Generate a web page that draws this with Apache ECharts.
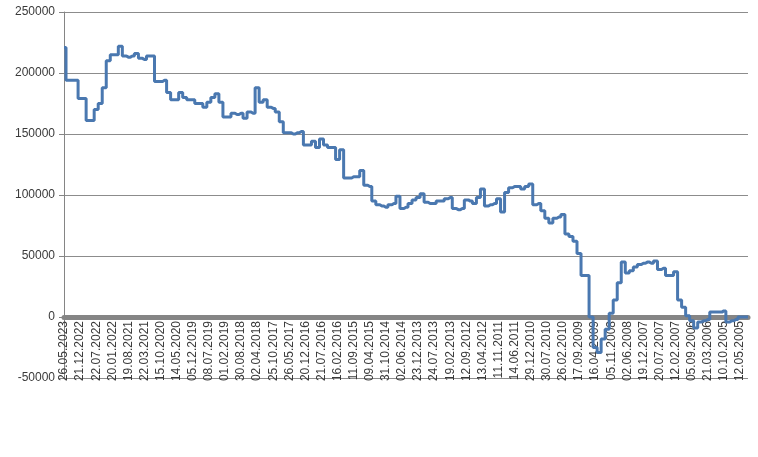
<!DOCTYPE html>
<html>
<head>
<meta charset="utf-8">
<script src="https://cdn.jsdelivr.net/npm/echarts@6/dist/echarts.min.js"></script>
<style>
html,body{margin:0;padding:0;background:#fff;}
#chart{width:758px;height:457px;}
</style>
</head>
<body>
<div id="chart"></div>
<script>
// Tick labels on the category axis (every 4th point)
const dateLabels = [
  "26.05.2023","21.12.2022","22.07.2022","20.01.2022","19.08.2021","22.03.2021",
  "15.10.2020","14.05.2020","05.12.2019","08.07.2019","01.02.2019","30.08.2018",
  "02.04.2018","25.10.2017","26.05.2017","20.12.2016","21.07.2016","16.02.2016",
  "11.09.2015","09.04.2015","31.10.2014","02.06.2014","23.12.2013","24.07.2013",
  "19.02.2013","12.09.2012","13.04.2012","11.11.2011","14.06.2011","29.12.2010",
  "30.07.2010","26.02.2010","17.09.2009","16.04.2009","05.11.2008","02.06.2008",
  "19.12.2007","20.07.2007","12.02.2007","05.09.2006","21.03.2006","10.10.2005",
  "12.05.2005"
];
const pointsPerLabel = 4;

// Series values
const balance = [
  221000,194000,194000,194000,179000,179000,161000,161000,170000,175000,
  188000,210000,215000,215000,222000,214000,213000,214000,216000,212000,
  211000,214000,214000,193000,193000,194000,184000,178000,178000,184000,
  180000,178000,178000,175000,175000,172000,176000,180000,183000,176000,
  164000,164000,167000,166000,167000,163000,168000,167000,188000,176000,
  178000,172000,171000,168000,160000,151000,151000,150000,151000,152000,
  141000,141000,144000,139000,146000,141000,139000,139000,129000,137000,
  114000,114000,115000,115000,120000,108000,107000,95000,92000,91000,
  90000,92000,93000,99000,89000,90000,93000,96000,98000,101000,
  94000,93000,93000,95000,95000,97000,98000,89000,88000,89000,
  96000,95000,93000,98000,105000,91000,92000,93000,97000,86000,
  102000,106000,107000,107000,105000,107000,109000,92000,93000,87000,
  81000,77000,81000,82000,84000,68000,66000,62000,52000,34000,
  34000,0,-25000,-29000,-18000,-10000,3000,14000,28000,45000,
  36000,38000,41000,43000,44000,45000,44000,46000,39000,40000,
  34000,34000,37000,14000,8000,1000,-3000,-9000,-4000,-3000,
  -2000,4000,4000,4000,5000,-4000,-3000,-2000,0,0,
  0
];

const yTicks = { min: -50000, max: 250000, interval: 50000 };

const categories = balance.map((v, i) =>
  i % pointsPerLabel === 0 ? (dateLabels[i / pointsPerLabel] || "") : "");

const chart = echarts.init(document.getElementById('chart'), null, { renderer: 'canvas' });
chart.setOption({
  animation: false,
  backgroundColor: '#ffffff',
  grid: { left: 64, right: 10, top: 12, bottom: 79, containLabel: false },
  xAxis: {
    type: 'category',
    data: categories,
    boundaryGap: false,
    z: 1,
    axisLine: { show: true, onZero: true, lineStyle: { color: '#858585', width: 5 } },
    axisTick: { show: false },
    axisLabel: {
      interval: pointsPerLabel - 1,
      rotate: 90,
      margin: -57,
      fontFamily: 'Liberation Sans',
      fontSize: 12,
      color: '#3a3a3a'
    },
    splitLine: { show: false }
  },
  yAxis: {
    type: 'value',
    min: yTicks.min,
    max: yTicks.max,
    interval: yTicks.interval,
    axisLine: { show: true, lineStyle: { color: '#858585', width: 1 } },
    axisTick: { show: true, inside: false, length: 5, lineStyle: { color: '#858585' } },
    axisLabel: {
      margin: 9,
      fontFamily: 'Liberation Sans',
      fontSize: 12,
      color: '#3a3a3a',
      formatter: v => String(v)
    },
    splitLine: { show: true, lineStyle: { color: '#8c8c8c', width: 1 } }
  },
  series: [{
    type: 'line',
    data: balance,
    step: 'middle',
    symbol: 'none',
    lineStyle: { color: '#4a78b0', width: 3 },
    z: 10
  }]
});
</script>
</body>
</html>
